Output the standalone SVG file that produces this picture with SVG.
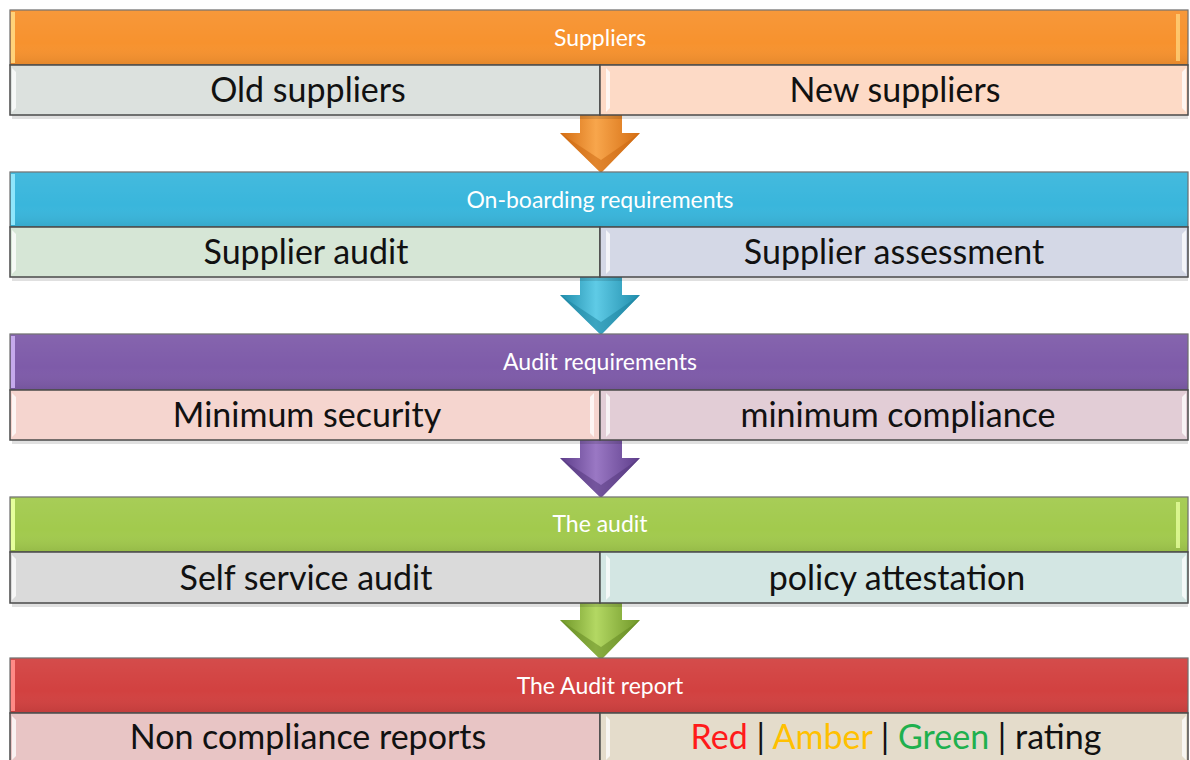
<svg xmlns="http://www.w3.org/2000/svg" width="1190" height="760" viewBox="0 0 1190 760">
<defs>
<style>
.hdr{stroke:#6b6b6b;stroke-width:1.2}
.cell{stroke:#4a4a4a;stroke-width:1.5}
.ht{font-family:Lato,"Open Sans","Liberation Sans",sans-serif;font-size:23px;fill:#ffffff;text-anchor:middle}
.st{font-family:Lato,"Open Sans","Liberation Sans",sans-serif;font-size:34px;fill:#111111;text-anchor:middle}
.shadow{fill:#000;opacity:0.12}
.hl{fill:#ffffff;opacity:0.75}
</style>
<linearGradient id="gloss" x1="0" y1="0" x2="0" y2="1">
<stop offset="0" stop-color="#fff" stop-opacity="0.06"/>
<stop offset="0.6" stop-color="#fff" stop-opacity="0"/>
<stop offset="1" stop-color="#000" stop-opacity="0.08"/>
</linearGradient>
<linearGradient id="agO" x1="0" y1="0" x2="1" y2="0"><stop offset="0" stop-color="#d46d12"/><stop offset="0.45" stop-color="#f8a64c"/><stop offset="1" stop-color="#d46d12"/></linearGradient>
<linearGradient id="agB" x1="0" y1="0" x2="1" y2="0"><stop offset="0" stop-color="#1f8cab"/><stop offset="0.45" stop-color="#5fcbe6"/><stop offset="1" stop-color="#1f8cab"/></linearGradient>
<linearGradient id="agP" x1="0" y1="0" x2="1" y2="0"><stop offset="0" stop-color="#5d3d8a"/><stop offset="0.45" stop-color="#9a78c4"/><stop offset="1" stop-color="#5d3d8a"/></linearGradient>
<linearGradient id="agG" x1="0" y1="0" x2="1" y2="0"><stop offset="0" stop-color="#6f9628"/><stop offset="0.45" stop-color="#b3d863"/><stop offset="1" stop-color="#6f9628"/></linearGradient>
</defs>
<rect width="1190" height="760" fill="#ffffff"/>

<g id="connectors">
<g id="arrow1"><path d="M580 115 H622 V133 H640 L601 173 L560 133 H580 Z" fill="url(#agO)"/><path d="M560 133 L601 160 L640 133 L601 173 Z" fill="#c9650f" opacity="0.5"/></g>
<g id="arrow2"><path d="M580 277 H622 V295 H640 L601 335 L560 295 H580 Z" fill="url(#agB)"/><path d="M560 295 L601 322 L640 295 L601 335 Z" fill="#1a7f9c" opacity="0.5"/></g>
<g id="arrow3"><path d="M580 440 H622 V458 H640 L601 498 L560 458 H580 Z" fill="url(#agP)"/><path d="M560 458 L601 485 L640 458 L601 498 Z" fill="#4f3378" opacity="0.5"/></g>
<g id="arrow4"><path d="M580 603 H622 V620 H640 L601 660 L560 620 H580 Z" fill="url(#agG)"/><path d="M560 620 L601 647 L640 620 L601 660 Z" fill="#5f8420" opacity="0.5"/></g>
</g>

<g id="band1">
<rect class="shadow" x="12" y="115" width="1176" height="4"/>
<g id="n-suppliers"><rect class="hdr" x="10" y="10" width="1178" height="55" fill="#f7922e"/><rect x="10" y="10" width="1178" height="55" fill="url(#gloss)"/><rect x="11" y="12" width="4" height="51" fill="#ffd27a"/><rect x="1176" y="14" width="4" height="47" fill="#ffd27a" opacity="0.8"/><text class="ht" x="600" y="46">Suppliers</text></g>
<g id="n-old"><rect class="cell" x="10" y="65" width="590" height="50" fill="#dce1de"/><path class="hl" d="M12 68 L16 72 V108 L12 112 Z"/><text class="st" x="308" y="102">Old suppliers</text></g>
<g id="n-new"><rect class="cell" x="600" y="65" width="588" height="50" fill="#fddac6"/><path class="hl" d="M606 68 L610 72 V108 L606 112 Z"/><path class="hl" d="M1186 68 L1182 72 V108 L1186 112 Z"/><text class="st" x="895" y="102">New suppliers</text></g>
</g>

<g id="band2">
<rect class="shadow" x="12" y="277" width="1176" height="4"/>
<g id="n-onboarding"><rect class="hdr" x="10" y="172" width="1178" height="55" fill="#39b6dc"/><rect x="10" y="172" width="1178" height="55" fill="url(#gloss)"/><rect x="11" y="174" width="4" height="51" fill="#8fe6fb"/><text class="ht" x="600" y="208">On-boarding requirements</text></g>
<g id="n-audit"><rect class="cell" x="10" y="227" width="590" height="50" fill="#d6e6d6"/><path class="hl" d="M12 230 L16 234 V270 L12 274 Z"/><text class="st" x="306" y="264">Supplier audit</text></g>
<g id="n-assessment"><rect class="cell" x="600" y="227" width="588" height="50" fill="#d4d8e6"/><path class="hl" d="M606 230 L610 234 V270 L606 274 Z"/><path class="hl" d="M1186 230 L1182 234 V270 L1186 274 Z"/><text class="st" x="894" y="264">Supplier assessment</text></g>
</g>

<g id="band3">
<rect class="shadow" x="12" y="440" width="1176" height="4"/>
<g id="n-auditreq"><rect class="hdr" x="10" y="334" width="1178" height="56" fill="#7e5ba9"/><rect x="10" y="334" width="1178" height="56" fill="url(#gloss)"/><rect x="11" y="336" width="4" height="52" fill="#c5a9ec"/><text class="ht" x="600" y="370">Audit requirements</text></g>
<g id="n-minsec"><rect class="cell" x="10" y="390" width="590" height="50" fill="#f5d5cf"/><path class="hl" d="M12 393 L16 397 V433 L12 437 Z"/><path class="hl" d="M594 393 L590 397 V433 L594 437 Z"/><text class="st" x="307" y="427">Minimum security</text></g>
<g id="n-mincomp"><rect class="cell" x="600" y="390" width="588" height="50" fill="#e2cdd6"/><path class="hl" d="M606 393 L610 397 V433 L606 437 Z"/><path class="hl" d="M1186 393 L1182 397 V433 L1186 437 Z"/><text class="st" x="898" y="427">minimum compliance</text></g>
</g>

<g id="band4">
<rect class="shadow" x="12" y="603" width="1176" height="4"/>
<g id="n-theaudit"><rect class="hdr" x="10" y="497" width="1178" height="55" fill="#a2ca4d"/><rect x="10" y="497" width="1178" height="55" fill="url(#gloss)"/><rect x="11" y="499" width="4" height="51" fill="#e6ff9c"/><rect x="1176" y="502" width="4" height="46" fill="#e6ff9c" opacity="0.8"/><text class="ht" x="600" y="532">The audit</text></g>
<g id="n-self"><rect class="cell" x="10" y="552" width="590" height="51" fill="#dadada"/><path class="hl" d="M12 555 L16 559 V596 L12 600 Z"/><text class="st" x="306" y="590">Self service audit</text></g>
<g id="n-policy"><rect class="cell" x="600" y="552" width="588" height="51" fill="#d3e6e3"/><path class="hl" d="M606 555 L610 559 V596 L606 600 Z"/><path class="hl" d="M1186 555 L1182 559 V596 L1186 600 Z"/><text class="st" x="897" y="590">policy attestation</text></g>
</g>

<g id="band5">
<g id="n-report"><rect class="hdr" x="10" y="658" width="1178" height="55" fill="#d24140"/><rect x="10" y="658" width="1178" height="55" fill="url(#gloss)"/><rect x="11" y="660" width="4" height="51" fill="#ff8a86"/><text class="ht" x="600" y="694">The Audit report</text></g>
<g id="n-noncomp"><rect class="cell" x="10" y="713" width="590" height="52" fill="#e8c5c5"/><path class="hl" d="M12 716 L16 720 V756 L12 760 Z"/><text class="st" x="308" y="749">Non compliance reports</text></g>
<g id="n-rating"><rect class="cell" x="600" y="713" width="588" height="52" fill="#e4dccb"/><path class="hl" d="M606 716 L610 720 V756 L606 760 Z"/><path class="hl" d="M1186 716 L1182 720 V756 L1186 760 Z"/><text class="st" x="896" y="749"><tspan fill="#ff1a1a">Red</tspan> | <tspan fill="#ffc000">Amber</tspan> | <tspan fill="#1fb04e">Green</tspan> | rating</text></g>
</g>
</svg>
